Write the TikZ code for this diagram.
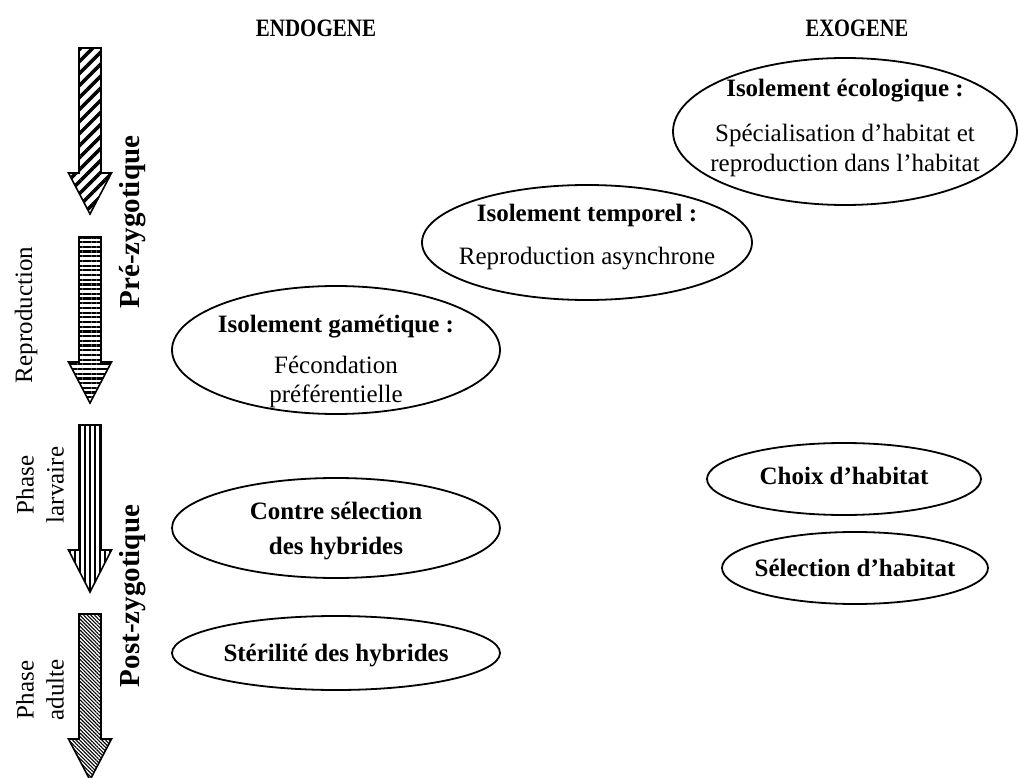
\documentclass[tikz,border=0pt]{standalone}
\usepackage{fontspec}
\setmainfont{Liberation Serif}
\usetikzlibrary{shapes.geometric,patterns.meta}
\tikzstyle{isolement}=[ellipse, draw=black, line width=1.8pt, inner sep=0pt,
        font=\fontsize{25}{30}\selectfont]
\tikzstyle{phase}=[rotate=90, align=center, font=\fontsize{25}{30}\selectfont]
\tikzstyle{stade}=[rotate=90, font=\fontsize{29}{34}\selectfont\bfseries]
\tikzstyle{colonne}=[font=\fontsize{25}{30}\selectfont\bfseries]
% big striped arrow: x, top, head start, tip, pattern
\newcommand{\fleche}[5]{%
  \draw[line width=1.6pt, pattern={#5}]
    ({#1-11},#2) -- ({#1+11},#2) -- ({#1+11},#3) -- ({#1+21.5},#3)
    -- (#1,#4) -- ({#1-21.5},#3) -- ({#1-11},#3) -- cycle;}
% text of an ellipse, not counted in its size
\newcommand{\contenu}[2][-9pt]{%
  \raisebox{#1}[0pt][0pt]{\makebox[0pt]{\begin{tabular}{@{}c@{}}#2\end{tabular}}}}

\begin{document}
\begin{tikzpicture}[x=1pt,y=-1pt]
\useasboundingbox (0,0) rectangle (1018,778);

	% column titles
	\node (Endogene) [colonne] at (316,28) {\scalebox{0.84}[1]{ENDOGENE}};
	\node (Exogene) [colonne] at (857,28) {\scalebox{0.82}[1]{EXOGENE}};

	% arrows on the left
	\fleche{90}{48}{173}{214}{Lines[angle=45,distance=8.5pt,line width=3.5pt]}
	\fleche{90}{237}{362}{403}{Lines[angle=0,distance=4.7pt,line width=2.2pt]}
	\fleche{90}{425}{550}{592}{Lines[angle=90,distance=5pt,line width=2pt]}
	\fleche{90}{614}{739}{780}{Lines[angle=-45,distance=2.6pt,line width=1.1pt]}

	\node (Reproduction) [phase] at (26,315) {Reproduction};
	\node (Larvaire) [phase] at (40,485) {Phase\\larvaire};
	\node (Adulte) [phase] at (40,690) {Phase\\adulte};

	\node (PreZygotique) [stade] at (133,222) {Pré-zygotique};
	\node (PostZygotique) [stade] at (133,596) {Post-zygotique};

	% endogenous barriers
	\node (Gametique) [isolement, minimum width=328pt, minimum height=128pt] at (336,350)
        {\contenu[-18pt]{\textbf{Isolement gamétique :}\\[11pt] Fécondation\\[-1pt]préférentielle}};
	\node (ContreSelection) [isolement, minimum width=328pt, minimum height=100pt] at (336,528)
        {\contenu{\textbf{Contre sélection}\\[5pt]\textbf{des hybrides}}};
	\node (Sterilite) [isolement, minimum width=328pt, minimum height=74pt] at (336,653)
        {\contenu{\textbf{Stérilité des hybrides}}};

	% exogenous barriers
	\node (Temporel) [isolement, minimum width=330pt, minimum height=115pt] at (587,242.5)
        {\contenu[-1pt]{\textbf{Isolement temporel :}\\[13pt] Reproduction asynchrone}};
	\node (Ecologique) [isolement, minimum width=344pt, minimum height=147pt] at (845,131.5)
        {\contenu[-3pt]{\textbf{Isolement écologique :}\\[15pt] Spécialisation d’habitat et\\reproduction dans l’habitat}};
	\node (ChoixHabitat) [isolement, minimum width=274pt, minimum height=72pt] at (844,479)
        {\contenu[-6pt]{\textbf{Choix d’habitat}}};
	\node (SelectionHabitat) [isolement, minimum width=266pt, minimum height=72pt] at (855,568)
        {\contenu{\textbf{Sélection d’habitat}}};
\end{tikzpicture}
\end{document}
